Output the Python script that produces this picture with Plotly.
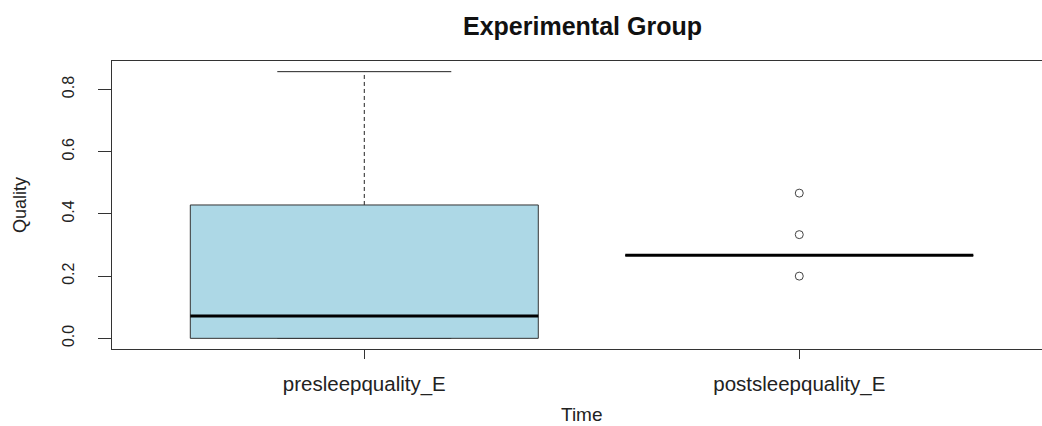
import plotly.graph_objects as go

# Summary statistics for each time point
categories = ["presleepquality_E", "postsleepquality_E"]
positions = [1, 2]
whisker_low = [0.0, 0.2667]
q1 = [0.0, 0.2667]
median = [0.0714, 0.2667]
q3 = [0.4286, 0.2667]
whisker_high = [0.8571, 0.2667]
outliers = [[], [0.2, 0.3333, 0.4667]]

box_half = 0.4
cap_half = 0.2
fill_color = "#ADD8E6"
ink = "#222222"
font_family = "Liberation Sans, Arial, sans-serif"

fig = go.Figure()

for i, pos in enumerate(positions):
    # dashed whiskers
    fig.add_trace(go.Scatter(
        x=[pos, pos, None, pos, pos],
        y=[q3[i], whisker_high[i], None, q1[i], whisker_low[i]],
        mode="lines", line=dict(color=ink, width=1, dash="4px,3px"),
        hoverinfo="skip", showlegend=False))
    # whisker caps
    fig.add_trace(go.Scatter(
        x=[pos - cap_half, pos + cap_half, None, pos - cap_half, pos + cap_half],
        y=[whisker_high[i], whisker_high[i], None, whisker_low[i], whisker_low[i]],
        mode="lines", line=dict(color=ink, width=1),
        hoverinfo="skip", showlegend=False))
    # box
    fig.add_trace(go.Scatter(
        x=[pos - box_half, pos + box_half, pos + box_half, pos - box_half, pos - box_half],
        y=[q1[i], q1[i], q3[i], q3[i], q1[i]],
        mode="lines", fill="toself", fillcolor=fill_color,
        line=dict(color="#333333", width=1),
        hoverinfo="skip", showlegend=False))
    # median
    fig.add_trace(go.Scatter(
        x=[pos - box_half, pos + box_half],
        y=[median[i], median[i]],
        mode="lines", line=dict(color="#000000", width=3),
        hoverinfo="skip", showlegend=False))
    # outliers
    if outliers[i]:
        fig.add_trace(go.Scatter(
            x=[pos] * len(outliers[i]), y=outliers[i],
            mode="markers",
            marker=dict(symbol="circle-open", size=8, color="#444444",
                        line=dict(width=1, color="#444444")),
            hoverinfo="skip", showlegend=False))

fig.update_layout(
    width=1042, height=426,
    margin=dict(l=112, r=0, t=61, b=77),
    paper_bgcolor="white", plot_bgcolor="white",
    font=dict(family=font_family, color=ink, size=15),
    xaxis=dict(
        range=[0.42, 2.558], tickmode="array", tickvals=positions,
        ticktext=categories, showgrid=False, zeroline=False,
        showline=True, mirror=True, linecolor="#333333", linewidth=1,
        ticks="outside", ticklen=9, tickcolor="#333333",
        ticklabelstandoff=7, tickfont=dict(size=20.5),
    ),
    yaxis=dict(
        range=[-0.0343, 0.8914], tickmode="array",
        tickvals=[0.0, 0.2, 0.4, 0.6, 0.8],
        ticktext=["0.0", "0.2", "0.4", "0.6", "0.8"],
        showgrid=False, zeroline=False,
        showline=True, mirror=False, linecolor="#333333", linewidth=1,
        ticks="outside", ticklen=13, tickcolor="#333333",
        tickangle=-90, ticklabelstandoff=18, tickfont=dict(size=16),
    ),
    annotations=[
        dict(text="<b>Experimental Group</b>", xref="paper", yref="paper",
             x=0.5054, y=1.1215, xanchor="center", yanchor="middle",
             showarrow=False, font=dict(size=25, color="#111111")),
        dict(text="Time", xref="paper", yref="paper",
             x=0.5054, y=-0.2257, xanchor="center", yanchor="middle",
             showarrow=False, font=dict(size=19)),
        dict(text="Quality", xref="paper", yref="paper",
             x=-0.099, y=0.5, xanchor="center", yanchor="middle",
             textangle=-90, showarrow=False, font=dict(size=18)),
    ],
)

fig.write_html("out.html")
